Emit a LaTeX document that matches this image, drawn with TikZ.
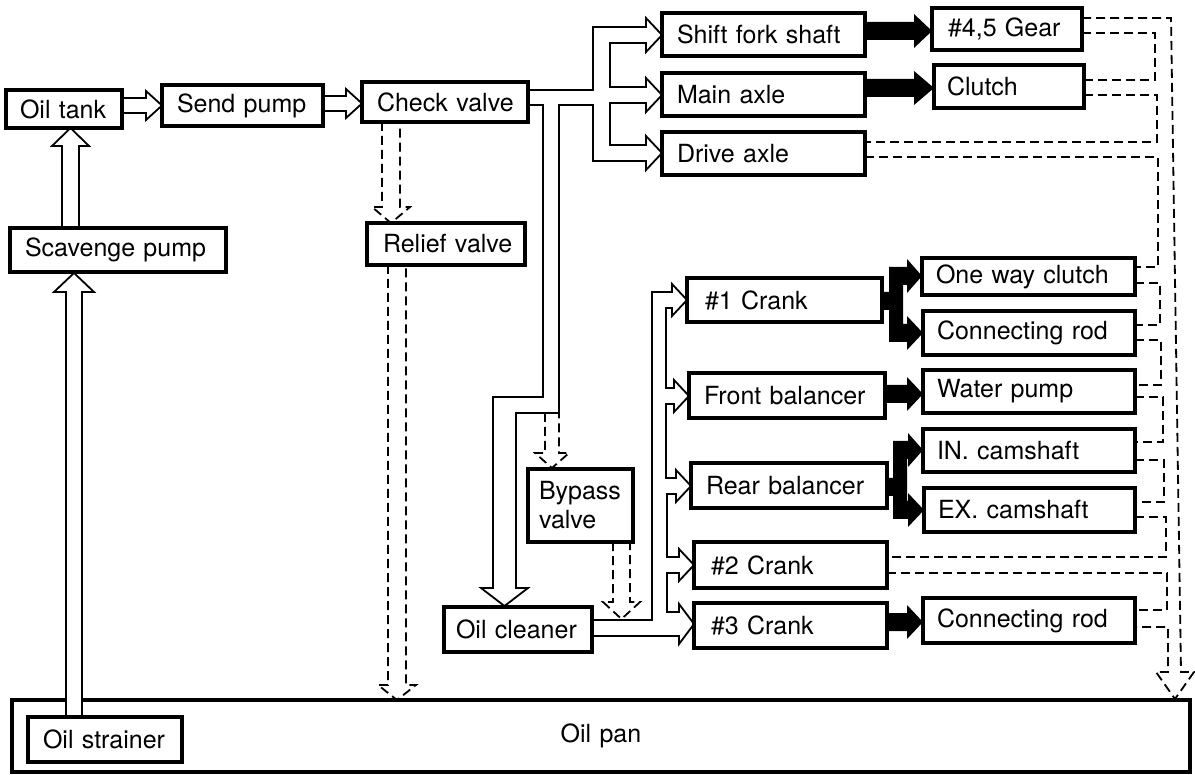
\documentclass[tikz,border=0pt]{standalone}
\usepackage{fontspec}
\setmainfont{TeX Gyre Heros}
\newcommand\fsz{\fontsize{25}{29}\selectfont}
\tikzset{
  unit/.style={draw, line width=3.2pt, fill=white, inner ysep=0pt, align=left, font=\fsz},
  tube/.style={line width=1.8pt, line join=miter},
  dtube/.style={line width=1.8pt, dash pattern=on 9pt off 5pt},
  blk/.style={fill=black},
}
\newcommand\mybox[7][14]{%
  \pgfmathsetmacro\mbW{#5-#3}%
  \pgfmathsetmacro\mbH{#6-#4}%
  \pgfmathsetmacro\mbX{(#3+#5)/2}%
  \pgfmathsetmacro\mbY{(#4+#6)/2}%
  \pgfmathsetmacro\mbT{\mbW-2*#1}%
  \node[unit, inner xsep=#1pt, text width=\mbT pt, minimum height=\mbH pt] (#2) at (\mbX,\mbY) {\mbox{#7}};}
\begin{document}
\begin{tikzpicture}[x=1pt,y=-1pt]
\useasboundingbox (0,0) rectangle (1195,775);
% oil pan
\node[unit, align=center, inner xsep=14pt, text width=1150pt, minimum height=72pt] (oilpan) at (601,736) {Oil pan};

% ---------- hollow solid arrows, left side ----------
\draw[tube] (122,98) -- (146,98) -- (146,91) -- (162,105.5) -- (146,120) -- (146,113) -- (122,113);
\draw[tube] (323,96) -- (346,96) -- (346,89) -- (362,103.5) -- (346,118) -- (346,111) -- (323,111);
\draw[tube] (62,228) -- (62,146) -- (52,146) -- (70.5,128) -- (89,146) -- (79,146) -- (79,228);
\filldraw[tube, fill=white] (66,717) -- (66,292) -- (54,292) -- (74,273) -- (94,292) -- (82,292) -- (82,717);

% ---------- check valve outlet network ----------
\draw[tube] (528,90) -- (593,90) -- (593,27) -- (646,27) -- (646,18) -- (662,35) -- (646,52) -- (646,43)
  -- (610,43) -- (610,87) -- (646,87) -- (646,78) -- (662,95) -- (646,112) -- (646,103)
  -- (610,103) -- (610,145) -- (646,145) -- (646,136) -- (662,153) -- (646,170) -- (646,161)
  -- (593,161) -- (593,105) -- (559,105) -- (559,413) -- (516,413) -- (516,588) -- (528,588)
  -- (504.5,606) -- (481,588) -- (493,588) -- (493,397) -- (543,397) -- (543,105) -- (528,105);

% ---------- oil cleaner outlet network ----------
\draw[tube] (592,620) -- (652,620) -- (652,292) -- (672,292) -- (672,284) -- (687,300) -- (672,316) -- (672,308)
  -- (666,308) -- (666,388) -- (674,388) -- (674,380) -- (689,396) -- (674,412) -- (674,404)
  -- (666,404) -- (666,478) -- (676,478) -- (676,470) -- (691,486) -- (676,502) -- (676,494)
  -- (667,494) -- (667,557) -- (679,557) -- (679,549) -- (694,565) -- (679,581) -- (679,573)
  -- (667,573) -- (667,612) -- (679,612) -- (679,604) -- (694,624) -- (679,644) -- (679,636)
  -- (592,636);

% ---------- black arrows ----------
\fill[blk] (865,22) -- (914,22) -- (914,14) -- (932,31) -- (914,48) -- (914,40) -- (865,40) -- cycle;
\fill[blk] (865,79) -- (914,79) -- (914,71) -- (934,88) -- (914,105) -- (914,97) -- (865,97) -- cycle;
\fill[blk] (882,292) -- (889,292) -- (889,267) -- (907,267) -- (907,259) -- (922,276) -- (907,293) -- (907,285)
  -- (903,285) -- (903,324) -- (907,324) -- (907,316) -- (923,333) -- (907,350) -- (907,342)
  -- (889,342) -- (889,310) -- (882,310) -- cycle;
\fill[blk] (885,385) -- (907,385) -- (907,377) -- (923,394) -- (907,411) -- (907,403) -- (885,403) -- cycle;
\fill[blk] (887,478) -- (893,478) -- (893,441) -- (908,441) -- (908,433) -- (923,450) -- (908,467) -- (908,459)
  -- (907,459) -- (907,501) -- (908,501) -- (908,493) -- (924,510) -- (908,527) -- (908,519)
  -- (893,519) -- (893,496) -- (887,496) -- cycle;
\fill[blk] (887,613) -- (907,613) -- (907,605) -- (923,622) -- (907,639) -- (907,631) -- (887,631) -- cycle;

% ---------- dashed hollow arrows ----------
\draw[dtube] (382,122) -- (382,207) -- (372,207) -- (391,223) -- (410,207) -- (400,207) -- (400,122);
\draw[dtube] (388,265) -- (388,685) -- (378,685) -- (397,700) -- (416,685) -- (406,685) -- (406,265);
\draw[dtube] (545,413) -- (545,453) -- (535,453) -- (552,468) -- (569,453) -- (559,453) -- (559,413);
\draw[dtube] (613,542) -- (613,602) -- (603,602) -- (621.5,619) -- (640,602) -- (630,602) -- (630,542);

% ---------- dashed return tube ----------
\draw[dtube] (1082,18) -- (1171,18) -- (1181,672) -- (1194,672) -- (1175,699) -- (1156,672) -- (1168,672) -- (1168,627) -- (1135,627);
\draw[dtube] (1082,33) -- (1155,33) -- (1155,80) -- (1084,80);
\draw[dtube] (1084,95) -- (1157,95) -- (1157,142) -- (865,142);
\draw[dtube] (865,157) -- (1158,157) -- (1158,267) -- (1135,267);
\draw[dtube] (1135,283) -- (1160,283) -- (1160,325) -- (1135,325);
\draw[dtube] (1135,340) -- (1161,340) -- (1161,385) -- (1135,385);
\draw[dtube] (1135,397) -- (1163,397) -- (1163,442) -- (1135,442);
\draw[dtube] (1135,460) -- (1164,460) -- (1164,502) -- (1135,502);
\draw[dtube] (1135,517) -- (1166,517) -- (1166,557) -- (887,557);
\draw[dtube] (887,573) -- (1167,573) -- (1167,610) -- (1135,610);

% ---------- boxes ----------
\mybox{oiltank}{6}{90}{122}{128}{Oil tank}
\mybox[15]{sendpump}{162}{85}{323}{126}{Send pump}
\mybox[15]{checkvalve}{362}{82}{528}{122}{Check valve}
\mybox[15]{scavenge}{10}{228}{226}{272}{Scavenge pump}
\mybox[16]{relief}{367}{223}{525}{265}{Relief valve}
\mybox[15]{shift}{662}{13}{865}{56}{Shift fork shaft}
\mybox[16]{gear}{932}{8}{1082}{50}{\#4,5 Gear}
\mybox[15]{main}{662}{73}{865}{116}{Main axle}
\mybox[13]{clutch}{934}{65}{1084}{108}{Clutch}
\mybox[15]{drive}{662}{132}{865}{175}{Drive axle}
\mybox{oneway}{922}{258}{1135}{295}{One way clutch}
\mybox{conrod1}{923}{311}{1135}{355}{Connecting rod}
\mybox[18]{crank1}{687}{278}{882}{322}{\#1 Crank}
\mybox[15]{front}{689}{373}{885}{418}{Front balancer}
\mybox{water}{923}{370}{1135}{413}{Water pump}
\mybox{incam}{923}{429}{1135}{472}{IN. camshaft}
\mybox[15]{rear}{691}{463}{887}{508}{Rear balancer}
\mybox{excam}{924}{488}{1135}{532}{EX. camshaft}
\node[unit, inner xsep=11pt, text width=83pt, minimum height=73pt] (bypass) at (580.5,505.5) {Bypass\\valve};
\mybox[17]{crank2}{694}{542}{887}{588}{\#2 Crank}
\mybox[17]{crank3}{694}{603}{887}{648}{\#3 Crank}
\mybox{conrod3}{923}{598}{1135}{643}{Connecting rod}
\mybox[12]{cleaner}{444}{607}{592}{652}{Oil cleaner}
\mybox[15]{strainer}{28}{717}{182}{762}{Oil strainer}
\end{tikzpicture}
\end{document}
